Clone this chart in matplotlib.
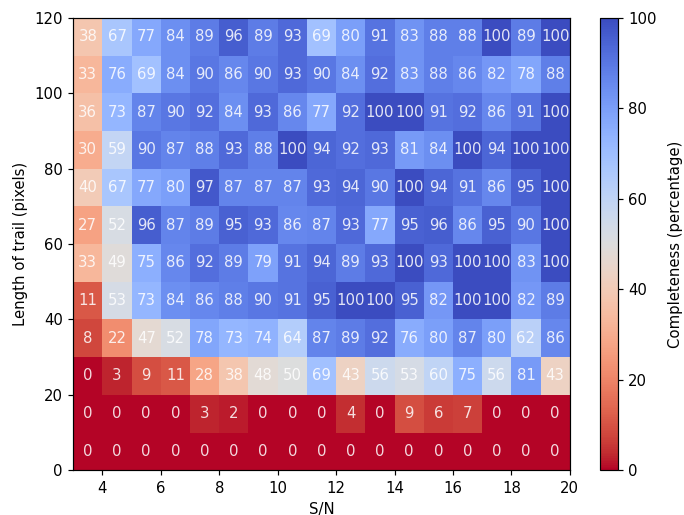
import numpy as np
import matplotlib.pyplot as plt

# S/N bin edges and trail length bin edges
sn_edges = np.arange(3, 21, 1)
length_edges = np.arange(0, 130, 10)

# completeness per bin, rows from shortest trail (0-10 px) to longest (110-120 px)
completeness = np.array([
    [0, 0, 0, 0, 0, 0, 0, 0, 0, 0, 0, 0, 0, 0, 0, 0, 0],
    [0, 0, 0, 0, 3, 2, 0, 0, 0, 4, 0, 9, 6, 7, 0, 0, 0],
    [0, 3, 9, 11, 28, 38, 48, 50, 69, 43, 56, 53, 60, 75, 56, 81, 43],
    [8, 22, 47, 52, 78, 73, 74, 64, 87, 89, 92, 76, 80, 87, 80, 62, 86],
    [11, 53, 73, 84, 86, 88, 90, 91, 95, 100, 100, 95, 82, 100, 100, 82, 89],
    [33, 49, 75, 86, 92, 89, 79, 91, 94, 89, 93, 100, 93, 100, 100, 83, 100],
    [27, 52, 96, 87, 89, 95, 93, 86, 87, 93, 77, 95, 96, 86, 95, 90, 100],
    [40, 67, 77, 80, 97, 87, 87, 87, 93, 94, 90, 100, 94, 91, 86, 95, 100],
    [30, 59, 90, 87, 88, 93, 88, 100, 94, 92, 93, 81, 84, 100, 94, 100, 100],
    [36, 73, 87, 90, 92, 84, 93, 86, 77, 92, 100, 100, 91, 92, 86, 91, 100],
    [33, 76, 69, 84, 90, 86, 90, 93, 90, 84, 92, 83, 88, 86, 82, 78, 88],
    [38, 67, 77, 84, 89, 96, 89, 93, 69, 80, 91, 83, 88, 88, 100, 89, 100],
])

dpi = 107
fig = plt.figure(figsize=(684 / dpi, 515 / dpi), dpi=dpi)
ax = fig.add_axes([0.107, 0.087, 0.726, 0.878])
cax = fig.add_axes([0.877, 0.087, 0.026, 0.878])

mesh = ax.pcolormesh(sn_edges, length_edges, completeness, cmap='coolwarm_r',
                     vmin=0, vmax=100)

sn_centres = (sn_edges[:-1] + sn_edges[1:]) / 2
length_centres = (length_edges[:-1] + length_edges[1:]) / 2
for i, y in enumerate(length_centres):
    for j, x in enumerate(sn_centres):
        ax.text(x, y, f'{completeness[i, j]:d}', ha='center', va='center',
                color='white', alpha=0.85, fontsize=10)

ax.set_xlim(3, 20)
ax.set_ylim(0, 120)
ax.set_xticks(np.arange(4, 21, 2))
ax.set_xlabel('S/N')
ax.set_ylabel('Length of trail (pixels)')

cb = fig.colorbar(mesh, cax=cax)
cb.set_label('Completeness (percentage)', labelpad=8)

fig.savefig('out.png', dpi=dpi)
